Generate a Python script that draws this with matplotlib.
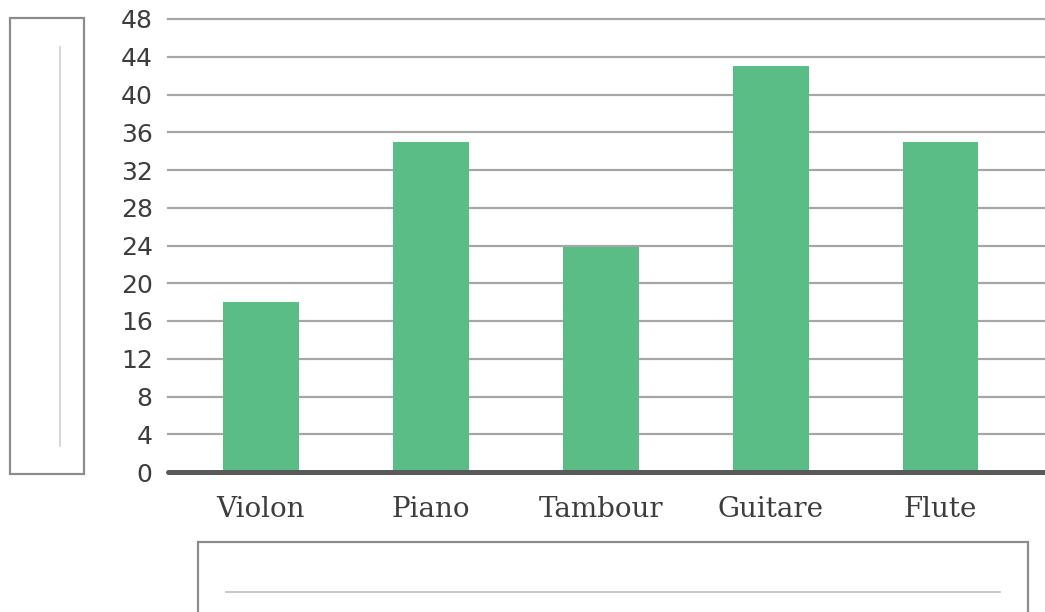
import matplotlib
matplotlib.use("Agg")
import matplotlib.pyplot as plt
from matplotlib.patches import Rectangle
from matplotlib.lines import Line2D

categories = ["Violon", "Piano", "Tambour", "Guitare", "Flute"]
values = [18, 35, 23.8, 43, 35]
yticks = list(range(0, 49, 4))

W, H = 1045, 612
fig = plt.figure(figsize=(W / 100, H / 100), dpi=100)

def fx(x):
    return x / W

def fy(y):
    return 1 - y / H

ax = fig.add_axes([fx(168), fy(472), fx(1045) - fx(168), fy(19) - fy(472)])
x = list(range(len(categories)))
ax.bar(x, values, width=0.447, color="#5abd85", zorder=2)
ax.set_ylim(0, 48)
ax.set_xlim(-0.547, 4.615)
ax.set_yticks(yticks)
ax.set_xticks(x)
ax.set_xticklabels(categories, family="DejaVu Serif", fontsize=20, color="#3d3d3d")
ax.tick_params(axis="y", length=0, pad=11, labelsize=18, labelcolor="#3d3d3d")
ax.tick_params(axis="x", length=0, pad=17)
for lab in ax.get_yticklabels():
    lab.set_family("DejaVu Sans")
for t in yticks[1:]:
    ax.axhline(t, color="#a6a6a6", linewidth=1.6, zorder=1, clip_on=False)
for s in ax.spines.values():
    s.set_visible(False)
ax.axhline(0, color="#595959", linewidth=3.6, solid_capstyle="round", zorder=3, clip_on=False)

# placeholder boxes for axis titles
fig.add_artist(Rectangle((fx(10), fy(474)), fx(84) - fx(10), fy(18) - fy(474),
                         fill=False, edgecolor="#8c8c8c", linewidth=1.6))
fig.add_artist(Line2D([fx(60), fx(60)], [fy(446), fy(47)], color="#cfcfd3", linewidth=1.2))
fig.add_artist(Rectangle((fx(198), fy(640)), fx(1028) - fx(198), fy(542) - fy(640),
                         fill=False, edgecolor="#8c8c8c", linewidth=1.6))
fig.add_artist(Line2D([fx(226), fx(1000)], [fy(592), fy(592)], color="#bdbdc2", linewidth=1.2))

fig.savefig("out.png", dpi=100)
